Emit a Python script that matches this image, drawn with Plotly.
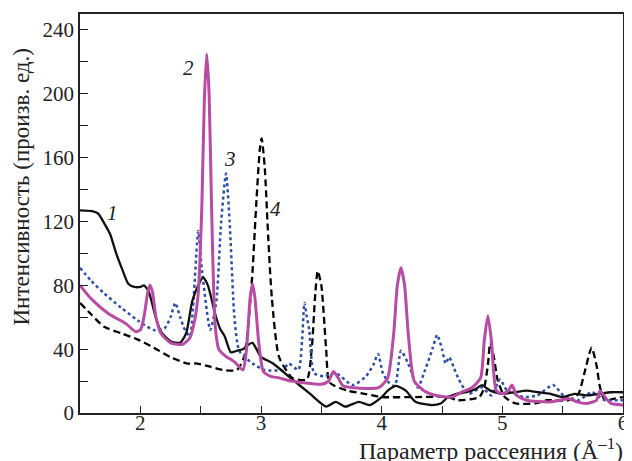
import plotly.graph_objects as go

# Curve 1 (solid black)
x1 = [1.50, 1.60, 1.65, 1.70, 1.75, 1.80, 1.85, 1.90, 1.95, 2.00, 2.03, 2.07, 2.12, 2.17, 2.25, 2.33,
      2.38, 2.43, 2.48, 2.52, 2.56, 2.62, 2.66, 2.70, 2.75, 2.80, 2.85, 2.90, 2.93, 2.97, 3.00, 3.05,
      3.10, 3.26, 3.40, 3.54, 3.62, 3.70, 3.81, 3.90, 4.00, 4.05, 4.12, 4.20, 4.28, 4.41, 4.49, 4.55,
      4.62, 4.70, 4.78, 4.83, 4.90, 5.00, 5.10, 5.20, 5.30, 5.40, 5.50, 5.60, 5.70, 5.80, 5.90, 6.00]
y1 = [127, 126.5, 125, 119, 112, 100, 90, 81, 79, 79, 80, 76, 62, 51, 45, 44,
      50, 70, 80, 85, 80, 62, 53, 48, 38, 39, 40, 43, 44, 39, 35, 33,
      31, 21, 12.5, 4, 7, 4, 7, 5, 10, 14, 17, 14, 7, 5, 6, 10,
      12, 13, 15, 17.5, 14, 12, 13, 14, 13, 12, 10, 12, 11, 12, 13, 13]

# Curve 2 (magenta)
x2 = [1.50, 1.60, 1.74, 1.88, 1.96, 2.00, 2.03, 2.06, 2.08, 2.10, 2.13, 2.17, 2.25, 2.35, 2.41, 2.45,
      2.48, 2.51, 2.53, 2.55, 2.57, 2.59, 2.62, 2.65, 2.70, 2.78, 2.85, 2.88, 2.91, 2.93, 2.95, 2.98,
      3.02, 3.08, 3.15, 3.25, 3.35, 3.50, 3.56, 3.60, 3.64, 3.68, 3.82, 3.98, 4.05, 4.10, 4.13, 4.16,
      4.19, 4.22, 4.27, 4.35, 4.45, 4.58, 4.66, 4.75, 4.82, 4.85, 4.88, 4.91, 4.95, 5.00, 5.05, 5.08,
      5.12, 5.20, 5.40, 5.55, 5.62, 5.70, 5.78, 5.81, 5.85, 5.90, 6.00]
y2 = [80, 71, 62, 56, 51, 52, 60, 75, 80, 76, 60, 50, 44, 43, 47, 58,
      75, 130, 195, 225, 200, 130, 55, 40, 36, 32, 27, 40, 72, 81, 72, 45,
      26, 23, 22, 20, 19, 18, 20, 26, 22, 17, 15.5, 16, 22, 50, 80, 91,
      80, 50, 20, 14, 11, 10, 13, 16, 22, 45, 61, 45, 14, 12, 14, 17.5,
      11, 8, 7, 9, 7, 6, 8, 14, 10, 6, 5]

# Curve 3 (blue dotted)
x3 = [1.50, 1.59, 1.70, 1.84, 1.98, 2.11, 2.20, 2.25, 2.29, 2.33, 2.37, 2.41, 2.44, 2.48, 2.51, 2.58,
      2.63, 2.67, 2.71, 2.74, 2.78, 2.82, 2.93, 3.03, 3.18, 3.23, 3.31, 3.34, 3.36, 3.38, 3.40, 3.44,
      3.52, 3.62, 3.76, 3.87, 3.93, 3.97, 4.01, 4.06, 4.11, 4.16, 4.22, 4.30, 4.36, 4.42, 4.46, 4.50,
      4.53, 4.56, 4.60, 4.64, 4.72, 4.83, 4.91, 4.98, 5.04, 5.18, 5.29, 5.42, 5.52, 5.63, 5.74, 5.85,
      5.96, 6.00]
y3 = [91, 83, 75, 66, 58, 52, 53, 60, 69, 60, 52, 48, 70, 114, 90, 52,
      70, 120, 150, 120, 60, 39, 31, 27, 27, 31, 27, 45, 69, 60, 52, 25,
      23, 25, 17.5, 23, 30, 37, 25, 19, 17, 39, 31, 16, 27, 40, 49, 40,
      31, 35, 28, 21, 12, 16, 11, 21, 14, 10, 11, 17.5, 10, 8, 13, 8,
      8, 8]

# Curve 4 (black dashed)
x4 = [1.50, 1.59, 1.70, 1.84, 1.98, 2.11, 2.25, 2.39, 2.47, 2.58, 2.68, 2.80, 2.86, 2.90, 2.93, 2.96,
      2.99, 3.005, 3.03, 3.06, 3.09, 3.15, 3.26, 3.38, 3.42, 3.45, 3.47, 3.50, 3.54, 3.57, 3.72, 3.86,
      4.00, 4.28, 4.55, 4.63, 4.81, 4.85, 4.88, 4.90, 4.93, 4.96, 5.02, 5.11, 5.27, 5.37, 5.55, 5.63,
      5.68, 5.74, 5.78, 5.81, 5.85, 5.93, 6.00]
y4 = [69, 62, 54, 50, 46, 41, 35, 31, 31, 29, 27, 27, 35, 60, 89, 130,
      165, 172, 155, 110, 72, 35, 22, 21, 40, 75, 89, 80, 40, 19, 14, 12,
      10, 10, 10, 8, 10, 16, 30, 44, 35, 21, 10, 6, 6, 8, 8, 12,
      25, 41, 30, 16, 8, 9, 10]

# Curve labels
lab_text = ["1", "2", "3", "4"]
lab_x = [1.77, 2.40, 2.74, 3.12]
lab_y = [125.6, 216, 159, 128]

xticks = [2, 3, 4, 5, 6]
yticks = [0, 40, 80, 120, 160, 200, 240]

fig = go.Figure()
fig.add_trace(go.Scatter(x=x4, y=y4, mode="lines",
                         line=dict(color="black", width=2.3, dash="7px,4px", shape="spline", smoothing=0.6)))
fig.add_trace(go.Scatter(x=x3, y=y3, mode="lines",
                         line=dict(color="#2E4FA8", width=2.5, dash="dot", shape="spline", smoothing=0.6)))
fig.add_trace(go.Scatter(x=x1, y=y1, mode="lines",
                         line=dict(color="#111111", width=2.3, shape="spline", smoothing=0.6)))
fig.add_trace(go.Scatter(x=x2, y=y2, mode="lines",
                         line=dict(color="#B84CA4", width=3, shape="spline", smoothing=0.6)))
# empty helper trace so the label-only overlay axis is drawn
fig.add_trace(go.Scatter(x=[None], y=[None], xaxis="x2", yaxis="y", mode="lines",
                         showlegend=False, hoverinfo="skip"))

for t, xx, yy in zip(lab_text, lab_x, lab_y):
    fig.add_annotation(x=xx, y=yy, text="<i>%s</i>" % t, showarrow=False,
                       font=dict(family="Liberation Serif", size=21, color="#222"))

font = dict(family="Liberation Serif", size=21, color="#222")
yfont = dict(family="Liberation Serif", size=23, color="#222")
xfont = dict(family="Liberation Serif", size=24, color="#222")

# Axis titles as annotations (page has an 8px body margin; the figure is offset accordingly)
fig.add_annotation(xref="paper", yref="paper", x=-0.108, y=0.566, xanchor="center", yanchor="middle",
                   text="Интенсивность (произв. ед.)", textangle=-90, showarrow=False, font=yfont)
fig.add_annotation(xref="paper", yref="paper", x=1.003, y=-0.09, xanchor="right", yanchor="middle",
                   text="Параметр рассеяния (Å<sup>–1</sup>)", showarrow=False, font=xfont)

fig.update_layout(
    width=624, height=453,
    margin=dict(l=72, r=6, t=4, b=48),
    paper_bgcolor="white", plot_bgcolor="white",
    showlegend=False,
    font=font,
    xaxis=dict(range=[1.5, 6], tickvals=xticks, showticklabels=False,
               ticks="inside", ticklen=7, tickwidth=1.2, tickcolor="#222",
               minor=dict(dtick=0.5, ticks="inside", ticklen=7, tickcolor="#222", tickwidth=1.2),
               showline=True, linecolor="#222", linewidth=1.6, mirror=True,
               showgrid=False, zeroline=False),
    # overlay axis carrying only the x tick labels, lifted slightly above the main axis
    xaxis2=dict(overlaying="x", anchor="free", position=0.013, side="bottom",
                range=[1.5, 6], tickvals=xticks, ticktext=[str(v) for v in xticks],
                showticklabels=True, showline=False, ticks="", showgrid=False, zeroline=False,
                tickfont=font),
    yaxis=dict(range=[0, 250], tickvals=yticks, ticktext=[str(v) for v in yticks],
               ticks="inside", ticklen=8, tickwidth=1.2, tickcolor="#222",
               minor=dict(dtick=20, ticks="inside", ticklen=8, tickcolor="#222", tickwidth=1.2),
               showline=True, linecolor="#222", linewidth=1.6, mirror=True,
               showgrid=False, zeroline=False, tickfont=font),
)
fig.write_html("out.html")
